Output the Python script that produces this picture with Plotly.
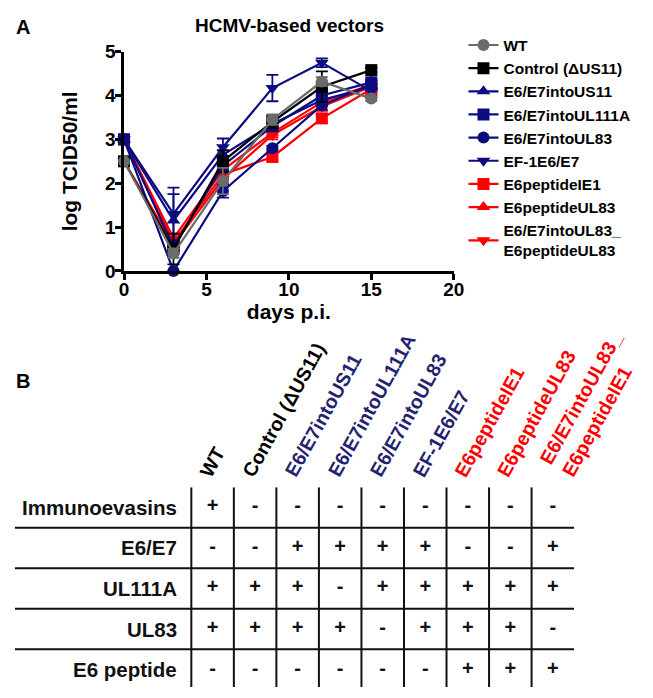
import plotly.graph_objects as go

# ---------------- data ----------------
days = [0, 3, 6, 9, 12, 15]

series_names = ["WT", "Control (ΔUS11)", "E6/E7intoUS11", "E6/E7intoUL111A",
                "E6/E7intoUL83", "EF-1E6/E7", "E6peptideIE1", "E6peptideUL83",
                "E6/E7intoUL83_<br>E6peptideUL83"]

wt        = [2.5, 0.40, 2.05, 3.45, 4.32, 3.93]
control   = [2.5, 0.50, 2.50, 3.40, 4.20, 4.58]
e6e7_us11 = [3.0, 1.15, 2.65, 3.35, 3.90, 4.20]
e6e7_111a = [3.0, 0.55, 2.40, 3.30, 4.00, 4.30]
e6e7_ul83 = [3.0, 0.00, 1.82, 2.80, 3.78, 4.25]
ef1_e6e7  = [3.0, 1.30, 2.82, 4.17, 4.75, 4.10]
pep_ie1   = [3.0, 0.65, 2.20, 2.60, 3.48, 4.15]
pep_ul83  = [3.0, 0.75, 2.30, 3.15, 3.85, 4.25]
combo     = [2.5, 0.60, 2.10, 3.10, 3.75, 4.20]

wt_err        = [0, 0.10, 0.30, 0.12, 0.10, 0.05]
control_err   = [0, 0.35, 0.25, 0.15, 0.35, 0.05]
e6e7_us11_err = [0, 0.60, 0.10, 0.10, 0.10, 0.10]
e6e7_111a_err = [0, 0.10, 0.15, 0.10, 0.15, 0.35]
e6e7_ul83_err = [0, 0.00, 0.15, 0.05, 0.10, 0.10]
ef1_e6e7_err  = [0, 0.60, 0.20, 0.30, 0.10, 0.10]
pep_ie1_err   = [0, 0.10, 0.10, 0.10, 0.10, 0.10]
pep_ul83_err  = [0, 0.10, 0.10, 0.10, 0.10, 0.10]
combo_err     = [0, 0.10, 0.10, 0.10, 0.10, 0.10]

x_ticks = [0, 5, 10, 15, 20]
y_ticks = [0, 1, 2, 3, 4, 5]

# table
col_names = ["WT", "Control (ΔUS11)", "E6/E7intoUS11", "E6/E7intoUL111A",
             "E6/E7intoUL83", "EF-1E6/E7", "E6peptideIE1", "E6peptideUL83",
             "E6/E7intoUL83_<br>E6peptideIE1"]
row_names = ["Immunoevasins", "E6/E7", "UL111A", "UL83", "E6 peptide"]
row_immuno = ["+", "-", "-", "-", "-", "-", "-", "-", "-"]
row_e6e7   = ["-", "-", "+", "+", "+", "+", "-", "-", "+"]
row_ul111a = ["+", "+", "+", "-", "+", "+", "+", "+", "+"]
row_ul83   = ["+", "+", "+", "+", "-", "+", "+", "+", "-"]
row_pep    = ["-", "-", "-", "-", "-", "-", "+", "+", "+"]

# ---------------- styling ----------------
GREY = "#6b6b6b"
BLACK = "#000000"
NAVY = "#0c0c82"
RED = "#ff0000"
HNAVY = "#232370"
FONT = "Liberation Sans, Arial, sans-serif"

styles = [
    (GREY, "circle"), (BLACK, "square"), (NAVY, "triangle-up"), (NAVY, "square"),
    (NAVY, "circle"), (NAVY, "triangle-down"), (RED, "square"), (RED, "triangle-up"),
    (RED, "triangle-down"),
]
values = [wt, control, e6e7_us11, e6e7_111a, e6e7_ul83, ef1_e6e7, pep_ie1, pep_ul83, combo]
errors = [wt_err, control_err, e6e7_us11_err, e6e7_111a_err, e6e7_ul83_err,
          ef1_e6e7_err, pep_ie1_err, pep_ul83_err, combo_err]
col_colors = [BLACK, BLACK, HNAVY, HNAVY, HNAVY, HNAVY, RED, RED, RED]

fig = go.Figure()

order = list(range(len(series_names)))[::-1]
for i in order:
    color, sym = styles[i]
    fig.add_trace(go.Scatter(
        x=days, y=values[i], mode="lines+markers", name="<b>%s</b>" % series_names[i],
        line=dict(color=color, width=2.2),
        marker=dict(color=color, symbol=sym, size=12),
        error_y=dict(type="data", array=errors[i], color=color, thickness=1.8, width=6),
        cliponaxis=False, legendrank=i + 1, legendgroup="g%d" % i,
        xaxis="x", yaxis="y",
    ))

# table cells as text traces on the table axes
cells_x, cells_y, cells_t = [], [], []
for r, row in enumerate([row_immuno, row_e6e7, row_ul111a, row_ul83, row_pep]):
    for c, v in enumerate(row):
        cells_x.append(c)
        cells_y.append(r)
        cells_t.append("<b>%s</b>" % v)
fig.add_trace(go.Scatter(
    x=cells_x, y=cells_y, text=cells_t, mode="text", showlegend=False,
    textfont=dict(family=FONT, size=20, color="#111111"),
    xaxis="x2", yaxis="y2", hoverinfo="skip",
))

W, H = 653, 698
def px(x):
    return x / W
def py(y):
    return 1 - y / H

ncol = len(col_names)
x2_min = -0.5 - (191 - 10) / 43.6
x2_max = ncol - 0.5
y2_max = (698 - 513) / 41.75

shapes = []
for c in range(ncol):
    shapes.append(dict(type="line", xref="x2", yref="y2", x0=c - 0.5, x1=c - 0.5,
                       y0=-0.5, y1=y2_max, line=dict(color="#111111", width=2)))
for r in range(len(row_names) - 1):
    shapes.append(dict(type="line", xref="x2", yref="y2", x0=x2_min, x1=x2_max,
                       y0=r + 0.5, y1=r + 0.5, line=dict(color="#111111", width=2)))

annotations = [
    dict(text="<b>A</b>", x=px(9), y=py(18), xref="paper", yref="paper",
         xanchor="left", yanchor="middle", showarrow=False,
         font=dict(family=FONT, size=20, color="black")),
    dict(text="<b>B</b>", x=px(9), y=py(382), xref="paper", yref="paper",
         xanchor="left", yanchor="middle", showarrow=False,
         font=dict(family=FONT, size=20, color="black")),
    dict(text="<b>HCMV-based vectors</b>", x=px(292), y=py(16), xref="paper", yref="paper",
         xanchor="center", yanchor="middle", showarrow=False,
         font=dict(family=FONT, size=19, color="black")),
]
for r, name in enumerate(row_names):
    annotations.append(dict(text="<b>%s</b>" % name, x=-0.5, y=r, xref="x2", yref="y2",
                            xanchor="right", yanchor="middle", xshift=-12, showarrow=False,
                            font=dict(family=FONT, size=20.5, color="#111111")))
for c, name in enumerate(col_names):
    annotations.append(dict(text="<b>%s</b>" % name, x=c, y=-0.5, xref="x2", yref="y2",
                            xanchor="left", yanchor="bottom", xshift=-20, yshift=4,
                            textangle=-61, showarrow=False, align="left",
                            font=dict(family=FONT, size=19.5, color=col_colors[c])))

fig.update_layout(
    width=W, height=H, autosize=False,
    margin=dict(l=0, r=0, t=0, b=0),
    paper_bgcolor="white", plot_bgcolor="white",
    font=dict(family=FONT, color="black"),
    xaxis=dict(domain=[px(122), px(460)], range=[0, 20], tickvals=x_ticks,
               ticktext=["<b>%d</b>" % v for v in x_ticks],
               showline=True, linecolor="black", linewidth=2.5, ticks="outside",
               ticklen=6, tickwidth=2.5, tickcolor="black", showgrid=False, zeroline=False,
               ticklabelstandoff=-6,
               tickfont=dict(family=FONT, size=19, color="black"),
               title=dict(text="<b>days p.i.</b>", standoff=0,
                          font=dict(family=FONT, size=21, color="black")),
               anchor="y"),
    yaxis=dict(domain=[py(269), py(43)], range=[0, 5], tickvals=y_ticks,
               ticktext=["<b>%d</b>" % v for v in y_ticks],
               showline=True, linecolor="black", linewidth=2.5, ticks="outside",
               ticklen=6, tickwidth=2.5, tickcolor="black", showgrid=False, zeroline=False,
               ticklabelstandoff=-4,
               tickfont=dict(family=FONT, size=19, color="black"),
               title=dict(text="<b>log TCID50/ml</b>", standoff=22,
                          font=dict(family=FONT, size=21, color="black")),
               anchor="x"),
    xaxis2=dict(domain=[px(10), px(583.4)], range=[x2_min, x2_max], visible=False,
                anchor="y2", fixedrange=True),
    yaxis2=dict(domain=[0, py(492)], range=[y2_max, -0.5], visible=False,
                anchor="x2", fixedrange=True),
    legend=dict(x=px(470), y=py(19), xanchor="left", yanchor="top",
                font=dict(family=FONT, size=15.5, color="black"),
                tracegroupgap=0, bgcolor="rgba(0,0,0,0)"),
    shapes=shapes,
    annotations=annotations,
    showlegend=True,
)

css_js = (
    "var de=document.documentElement, b=document.body;"
    "de.style.margin='0';de.style.padding='0';de.style.overflow='hidden';"
    "b.style.margin='0';b.style.padding='0';b.style.overflow='hidden';"
    "var gd=document.getElementById('{plot_id}');"
    "gd.style.position='absolute';gd.style.left='0px';gd.style.top='0px';"
)

fig.write_html(
    "out.html",
    config={"displayModeBar": False},
    post_script=css_js,
)
